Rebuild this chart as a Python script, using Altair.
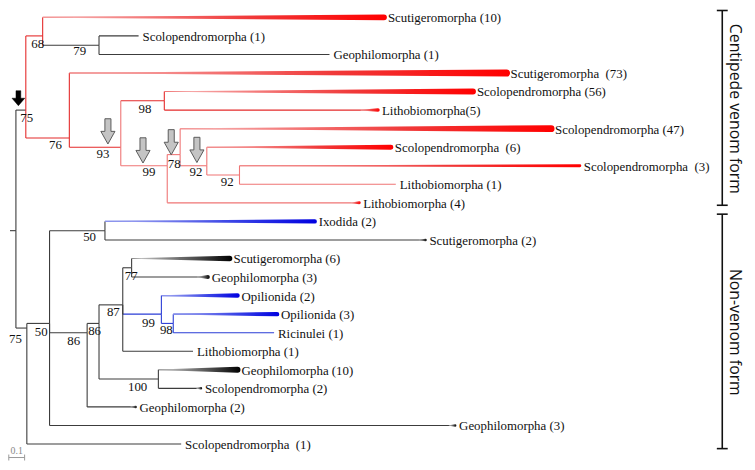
import altair as alt
import pandas as pd

# ---------------- data: tree topology, branch depths (root = 0), rows ----------------
node_names   = ["root", "n75a", "n68", "n79", "n76", "n93", "n98", "n99", "n78", "n92a", "n92b",
                "n75b", "n50a", "n50b", "n86a", "n86b", "n87", "n77", "n99b", "n98b", "n100"]
node_parent  = [None, "root", "n75a", "n68", "n75a", "n76", "n93", "n93", "n99", "n78", "n92a",
                "root", "n75b", "n50a", "n50a", "n86a", "n86b", "n87", "n87", "n99b", "n86b"]
node_depth   = [0.0, 0.0625, 0.169, 0.525, 0.3375, 0.6625, 0.9375, 0.956, 1.0375, 1.206, 1.4125,
                0.069, 0.2125, 0.5625, 0.45, 0.525, 0.675, 0.731, 0.919, 0.994, 0.90]
node_row     = [11.5, 5.0, 1.0, 1.5, 6.5, 7.0, 4.5, 8.0, 7.4, 8.0, 8.5,
                16.75, 16.5, 11.5, 17.0, 16.5, 15.5, 13.5, 16.0, 16.5, 19.5]
node_support = [None, 75, 68, 79, 76, 93, 98, 99, 78, 92, 92,
                75, 50, 50, 86, 86, 87, 77, 99, 98, 100]
node_group   = ["other", "other", "venom", "other", "venom", "venom", "venom", "venom2", "venom2", "venom2", "venom2",
                "other", "other", "other", "other", "other", "other", "other", "arachnid", "arachnid", "other"]
node_vgroup  = ["other", "venom", "venom", "other", "venom", "venom2", "venom", "venom2", "venom2", "venom2", "venom2",
                "other", "other", "other", "other", "other", "other", "other", "arachnid", "arachnid", "other"]

leaf_labels = ["Scutigeromorpha (10)", "Scolopendromorpha (1)", "Geophilomorpha (1)",
               "Scutigeromorpha \u00a0(73)", "Scolopendromorpha (56)", "Lithobiomorpha(5)",
               "Scolopendromorpha (47)", "Scolopendromorpha \u00a0(6)", "Scolopendromorpha \u00a0(3)",
               "Lithobiomorpha (1)", "Lithobiomorpha (4)", "Ixodida (2)", "Scutigeromorpha (2)",
               "Scutigeromorpha (6)", "Geophilomorpha (3)", "Opilionida (2)", "Opilionida (3)",
               "Ricinulei (1)", "Lithobiomorpha (1)", "Geophilomorpha (10)", "Scolopendromorpha (2)",
               "Geophilomorpha (2)", "Geophilomorpha (3)", "Scolopendromorpha \u00a0(1)"]
leaf_parent = ["n68", "n79", "n79", "n76", "n98", "n98", "n78", "n92a", "n92b", "n92b", "n99",
               "n50b", "n50b", "n77", "n77", "n99b", "n98b", "n98b", "n87", "n100", "n100",
               "n86a", "n50a", "n75b"]
leaf_depth = [2.325, 0.775, 1.981, 3.10, 2.8875, 2.2875, 3.381, 2.369, 3.5625, 2.40, 2.169,
              1.8875, 2.5875, 1.35, 1.2125, 1.40, 1.65, 1.631, 1.119, 1.40, 1.169, 0.756, 2.775, 1.044]
leaf_group = ["venom", "other", "other", "venom", "venom", "venom", "venom", "venom", "venom",
              "venom2", "venom2", "arachnid", "other", "other", "other", "arachnid", "arachnid",
              "arachnid", "other", "other", "other", "other", "other", "other"]
leaf_row = list(range(len(leaf_labels)))

clade_labels = ["Centipede venom form", "Non-venom form"]
clade_rows = [(-0.37, 10.13), (10.61, 23.25)]
scale_bar_length = 0.1

# ---------------- style ----------------
W, H = 747, 454
PX_PER_UNIT = 160.0
X_DOMAIN = [-0.05, -0.05 + W / PX_PER_UNIT]
Y_DOMAIN = [-0.37333, 23.84]
PXX = W / (X_DOMAIN[1] - X_DOMAIN[0])
PXY = H / (Y_DOMAIN[1] - Y_DOMAIN[0])
STEM = 6 / PXX
SERIF = "Liberation Serif, 'Times New Roman', Times, serif"

colors = {"venom": "#e42a2a", "venom2": "#ef7575", "arachnid": "#2a3cd6", "other": "#3c3c3c"}
# collapsed-clade wedges: width at tip (px) and fraction of the branch it grows over
leaf_tip_w = [6, 0, 0, 7, 6, 3.5, 7, 5, 3, 0, 3, 4.5, 2.5, 5.5, 4, 4.5, 4.5, 0, 0, 6, 2.5, 2.5, 2.5, 0]
leaf_ramp  = [1, 0, 0, 1, 1, 0.08, 1, 1, 1, 0, 0.04, 1, 0.02, 1, 0.14, 1, 1, 0, 0, 1, 0.1, 0.1, 0.015, 0]
# support-label offsets from node (px)
sup_dx = [0, 1, -5, -19.5, -14, -18, -19.5, -18.5, -6, -11, -12.5, -11.5, -8.5, -15.5, -13.5, -4.5, -9.5, -0.5, -13, -7, -21]
sup_dy = [0, 8, 8, 6, 7, 7, 8, 6.5, 9.5, 6.5, 7, 11, 8.5, 6.5, 8, 8, 7, 8.5, 9, 6.5, 8]
# arrows (anchored to nodes, px offsets)
arrow_nodes = ["n93", "n99", "n78", "n92a"]
arrow_dx = [-13, -24.5, -9, -10]
arrow_dy = [-16, -15.5, -12.5, -16]

# ---------------- build tables ----------------
pos = {n: (d, r) for n, d, r in zip(node_names, node_depth, node_row)}
vg = dict(zip(node_names, node_vgroup))

h_edges, v_edges = [], []
for n, p, g in zip(node_names, node_parent, node_group):
    d, r = pos[n]
    if p is None:
        h_edges.append(dict(x=d - STEM, x2=d, y=r, g=g))
        continue
    pdp, prw = pos[p]
    h_edges.append(dict(x=pdp, x2=d, y=r, g=g))
    v_edges.append(dict(x=pdp, y=prw, y2=r, g=vg[p]))
for i, (p, d, g) in enumerate(zip(leaf_parent, leaf_depth, leaf_group)):
    pdp, prw = pos[p]
    r = leaf_row[i]
    h_edges.append(dict(x=pdp, x2=d, y=r, g=g))
    v_edges.append(dict(x=pdp, y=prw, y2=r, g=vg[p]))
h_df = pd.DataFrame(h_edges)
v_df = pd.DataFrame(v_edges)

wedges = []
for i, (p, d, g) in enumerate(zip(leaf_parent, leaf_depth, leaf_group)):
    if leaf_tip_w[i] <= 0:
        continue
    start = pos[p][0]
    x0 = d - (d - start) * leaf_ramp[i]
    cg = "venom" if g.startswith("venom") else g
    wedges.append(dict(id=i, x=x0, y=leaf_row[i], w=0.6, cg=cg))
    wedges.append(dict(id=i, x=d, y=leaf_row[i], w=leaf_tip_w[i], cg=cg))
w_df = pd.DataFrame(wedges)

leaf_df = pd.DataFrame(dict(x=leaf_depth, y=leaf_row, label=leaf_labels))

sup = []
for n, s, dx, dy in zip(node_names, node_support, sup_dx, sup_dy):
    if s is None:
        continue
    d, r = pos[n]
    sup.append(dict(x=d + dx / PXX, y=r + dy / PXY, label=str(s)))
sup_df = pd.DataFrame(sup)

arr_df = pd.DataFrame([dict(x=pos[n][0] + dx / PXX, y=pos[n][1] + dy / PXY)
                       for n, dx, dy in zip(arrow_nodes, arrow_dx, arrow_dy)])
black_arr_df = pd.DataFrame([dict(x=pos["n75a"][0] - 7.5 / PXX, y=pos["n75a"][1] - 12 / PXY)])

# clade brackets
bx = 4.4625
cap = 5.5 / PXX
br_v = pd.DataFrame([dict(x=bx, y=a, y2=b) for a, b in clade_rows])
br_h = pd.DataFrame([dict(x=bx - cap, x2=bx + cap, y=v) for a, b in clade_rows for v in (a, b)])
br_t = pd.DataFrame([dict(x=bx + 12.5 / PXX, y=(a + b) / 2 + 0.05, label=t)
                     for (a, b), t in zip(clade_rows, clade_labels)])

# scale bar
sb_x0 = -0.045
sb_row = 23.73
sb_h = pd.DataFrame([dict(x=sb_x0, x2=sb_x0 + scale_bar_length, y=sb_row)])
sb_v = pd.DataFrame([dict(x=sb_x0 + k * scale_bar_length, y=sb_row - 3 / PXY, y2=sb_row + 3 / PXY) for k in (0, 1)])
sb_t = pd.DataFrame([dict(x=sb_x0 + scale_bar_length / 2, y=sb_row - 7 / PXY, label=str(scale_bar_length))])

# ---------------- chart ----------------
xs = alt.Scale(domain=X_DOMAIN, nice=False, zero=False)
ys = alt.Scale(domain=Y_DOMAIN, nice=False, zero=False, reverse=True)
X = lambda f: alt.X(f"{f}:Q", scale=xs, axis=None)
Y = lambda f: alt.Y(f"{f}:Q", scale=ys, axis=None)
cscale = alt.Scale(domain=list(colors.keys()), range=list(colors.values()))

h_layer = alt.Chart(h_df).mark_rule(strokeWidth=1.1).encode(
    x=X("x"), x2="x2:Q", y=Y("y"), color=alt.Color("g:N", scale=cscale, legend=None))
v_layer = alt.Chart(v_df).mark_rule(strokeWidth=1.1).encode(
    x=X("x"), y=Y("y"), y2="y2:Q", color=alt.Color("g:N", scale=cscale, legend=None))

grad = {
    "venom": ["#f7b8b8", "#f03a3a", "#ff0000"],
    "other": ["#d0d0d0", "#555555", "#000000"],
    "arachnid": ["#a8aef2", "#3a44e6", "#0000e0"],
}
wedge_layers = []
for cg, stops in grad.items():
    sub = w_df[w_df.cg == cg]
    if sub.empty:
        continue
    g = alt.Gradient(gradient="linear",
                     stops=[alt.GradientStop(color=stops[0], offset=0),
                            alt.GradientStop(color=stops[1], offset=0.6),
                            alt.GradientStop(color=stops[2], offset=1)],
                     x1=0, x2=1, y1=0, y2=0)
    wedge_layers.append(alt.Chart(sub).mark_trail(color=g).encode(
        x=X("x"), y=Y("y"), size=alt.Size("w:Q", scale=None), detail="id:N", order="x:Q"))

leaf_text = alt.Chart(leaf_df).mark_text(
    align="left", baseline="middle", dx=4, dy=1, font=SERIF, fontSize=13, color="#111"
).encode(x=X("x"), y=Y("y"), text="label:N")

sup_text = alt.Chart(sup_df).mark_text(
    align="center", baseline="middle", font=SERIF, fontSize=13, color="#111"
).encode(x=X("x"), y=Y("y"), text="label:N")

arrow_path = "M-0.24,-1 L0.24,-1 L0.24,0 L0.56,0 L0,1 L-0.56,0 L-0.24,0 Z"
arrows = alt.Chart(arr_df).mark_point(
    shape=arrow_path, size=650, filled=True, fill="#c4c4c4", stroke="#5a5a5a", strokeWidth=1, opacity=1
).encode(x=X("x"), y=Y("y"))
black_arrow_path = "M-0.32,-1 L0.32,-1 L0.32,0 L0.85,0 L0,1 L-0.85,0 L-0.32,0 Z"
black_arrow = alt.Chart(black_arr_df).mark_point(
    shape=black_arrow_path, size=230, filled=True, fill="#000", stroke="#000", strokeWidth=0.5, opacity=1
).encode(x=X("x"), y=Y("y"))

brv = alt.Chart(br_v).mark_rule(strokeWidth=1.6, color="#111").encode(x=X("x"), y=Y("y"), y2="y2:Q")
brh = alt.Chart(br_h).mark_rule(strokeWidth=1.6, color="#111").encode(x=X("x"), x2="x2:Q", y=Y("y"))
brt = alt.Chart(br_t).mark_text(angle=90, font="Open Sans", fontSize=16, color="#111",
                                align="center", baseline="middle").encode(x=X("x"), y=Y("y"), text="label:N")

sbh = alt.Chart(sb_h).mark_rule(strokeWidth=1, color="#999").encode(x=X("x"), x2="x2:Q", y=Y("y"))
sbv = alt.Chart(sb_v).mark_rule(strokeWidth=1, color="#999").encode(x=X("x"), y=Y("y"), y2="y2:Q")
sbt = alt.Chart(sb_t).mark_text(font=SERIF, fontSize=10, color="#888",
                                align="center", baseline="middle").encode(x=X("x"), y=Y("y"), text="label:N")

chart = alt.layer(
    h_layer, v_layer, *wedge_layers, leaf_text, sup_text, arrows, black_arrow,
    brv, brh, brt, sbh, sbv, sbt
).properties(
    width=W, height=H, padding=0, autosize=alt.AutoSizeParams(type="none"), background="white"
).configure_view(stroke=None)

chart.save("out.html", embed_options={"renderer": "svg", "actions": False})
